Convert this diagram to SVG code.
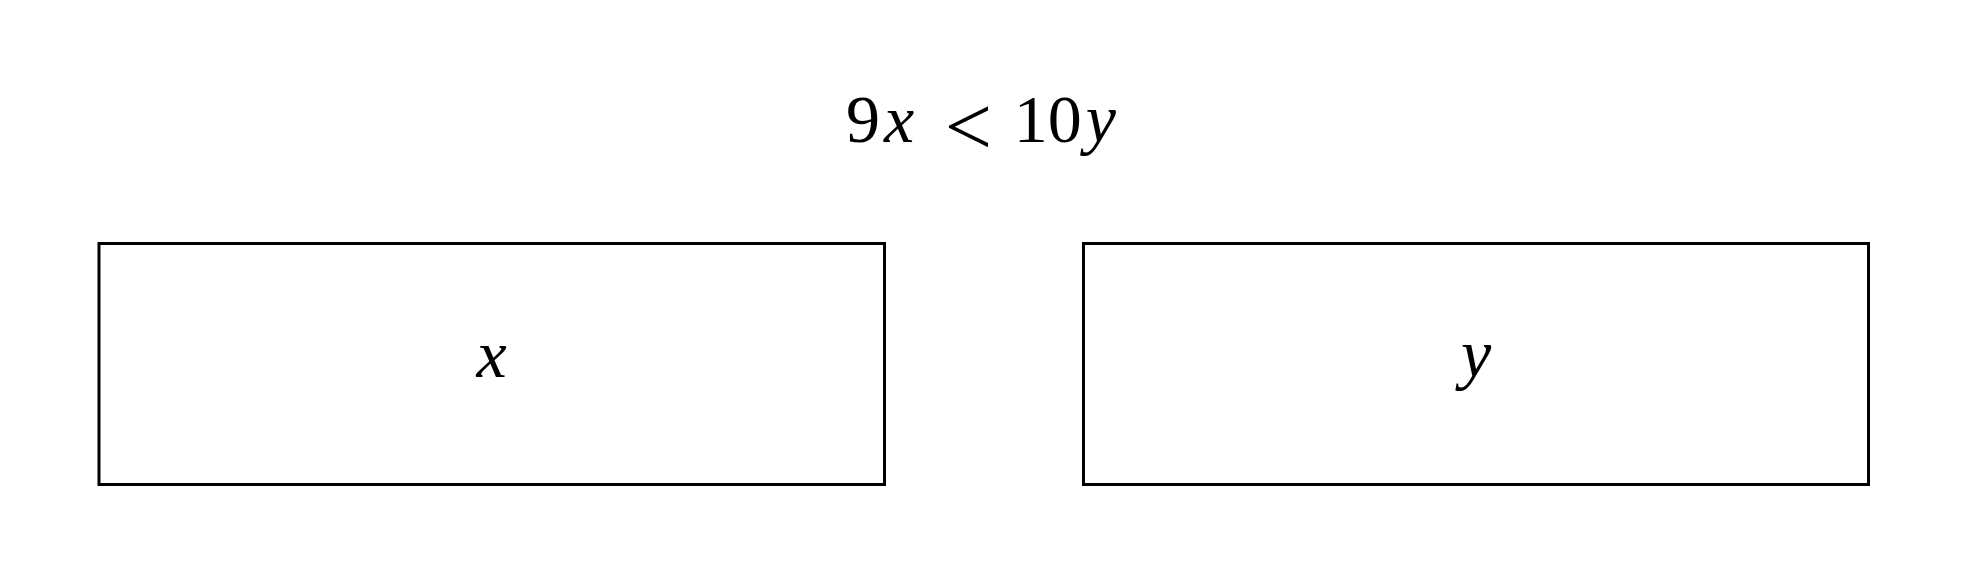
<svg xmlns="http://www.w3.org/2000/svg" width="1969" height="585" viewBox="0 0 1969 585">
<style>
.box{fill:none;stroke:#000;stroke-width:3}
.t{font-family:"Liberation Serif","DejaVu Serif",serif;font-size:68px;fill:#000}
.i{font-style:italic}
.lt{font-size:84px}
</style>
<rect width="1969" height="585" fill="#fff"/>
<g id="label">
<text class="t" x="846" y="142">9<tspan class="i" dx="4">x</tspan></text>
<text class="t lt" x="968.5" y="155" text-anchor="middle">&lt;</text>
<text class="t" x="1116" y="142" text-anchor="end">10<tspan class="i" dx="4">y</tspan></text>
</g>
<g id="node-x">
<rect class="box" x="99" y="243.5" width="785.5" height="241"/>
<text class="t i" x="491.5" y="377" text-anchor="middle">x</text>
</g>
<g id="node-y">
<rect class="box" x="1083.5" y="243.5" width="785" height="241"/>
<text class="t i" x="1476" y="377" text-anchor="middle">y</text>
</g>
<g id="connectors"></g>
</svg>
